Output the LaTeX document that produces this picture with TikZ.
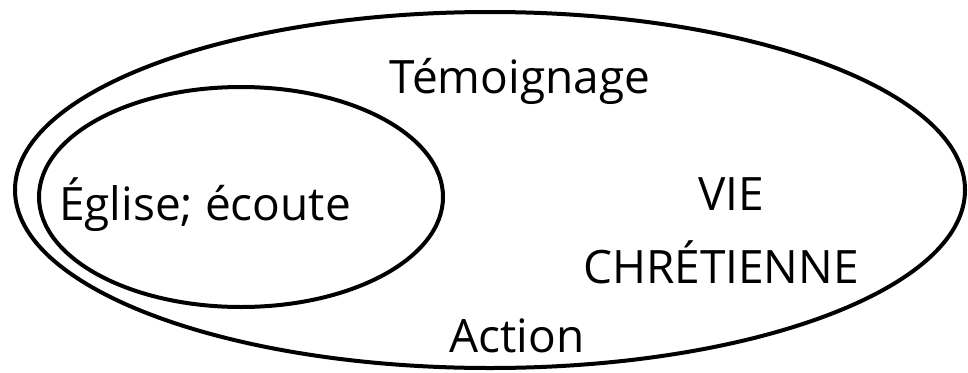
\documentclass[tikz,border=0pt]{standalone}
\usepackage{fontspec}
\setmainfont{Open Sans}
\begin{document}
\begin{tikzpicture}[x=1pt,y=-1pt,
  ring/.style={draw=black,line width=4pt},
  label/.style={inner sep=0pt,anchor=base,font=\fontsize{46}{52}\selectfont}]
\useasboundingbox (0,0) rectangle (968,372);
% outer and inner ovals
\draw[ring] (490,190) ellipse [x radius=475, y radius=178];
\draw[ring] (241,197) ellipse [x radius=202, y radius=110];
% texts
\node[label] (temoin) at (520,93) {Témoignage};
\node[label] (eglise) at (205,220) {Église; écoute};
\node[label] (vie) at (731,210) {VIE};
\node[label] (chret) at (721,283) {CHRÉTIENNE};
\node[label] (action) at (517,352) {Action};
\end{tikzpicture}
\end{document}
